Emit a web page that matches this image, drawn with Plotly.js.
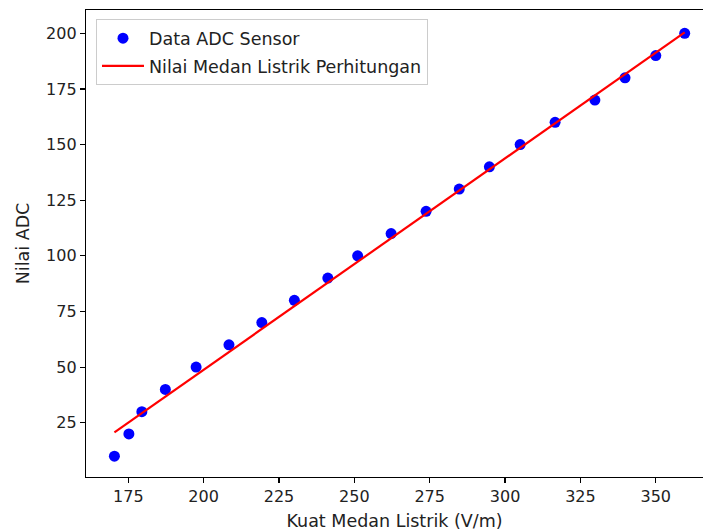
<!DOCTYPE html>
<html>
<head>
<meta charset="utf-8">
<script src="https://cdn.plot.ly/plotly-3.0.1.min.js"></script>
<style>
html,body{margin:0;padding:0;background:#fff;}
#chart{width:703px;height:532px;}
</style>
</head>
<body>
<div id="chart"></div>
<script>
// Data
const medanListrik = [170.4, 175.2, 179.5, 187.3, 197.5, 208.4, 219.3, 230.1, 241.2, 251.1, 262.2, 273.8, 284.8, 294.8, 305.0, 316.6, 329.8, 339.8, 350.0, 359.6];
const nilaiADC = [10, 20, 30, 40, 50, 60, 70, 80, 90, 100, 110, 120, 130, 140, 150, 160, 170, 180, 190, 200];
const garisX = [170.4, 359.6];
const garisY = [20.7, 200.4];
const seriesNames = ["Data ADC Sensor", "Nilai Medan Listrik Perhitungan"];
const xTitle = "Kuat Medan Listrik (V/m)";
const yTitle = "Nilai ADC";

const FONT = "DejaVu Sans, sans-serif";
const TXT = "#222";

const traces = [
  {
    x: medanListrik, y: nilaiADC, type: "scatter", mode: "markers",
    name: seriesNames[0], legendgroup: "a",
    marker: {color: "#0000ff", size: 11}
  },
  {
    x: garisX, y: garisY, type: "scatter", mode: "lines",
    name: seriesNames[1], legendgroup: "b",
    line: {color: "#ff0000", width: 2.2}
  }
];

const layout = {
  width: 703, height: 532,
  margin: {l: 86, r: 0, t: 10, b: 55, pad: 0},
  paper_bgcolor: "#fff", plot_bgcolor: "#fff",
  font: {family: FONT, size: 16, color: TXT},
  showlegend: true,
  legend: {
    x: 0.0162, y: 0.98, xanchor: "left", yanchor: "top",
    bgcolor: "rgba(255,255,255,0.8)", bordercolor: "#cccccc", borderwidth: 1,
    font: {family: FONT, size: 17.5, color: TXT},
    traceorder: "grouped", tracegroupgap: 2, itemwidth: 42
  },
  xaxis: {
    range: [160.97, 365.67], tick0: 0, dtick: 25,
    showgrid: false, zeroline: false,
    showline: true, linecolor: "#000", linewidth: 1.2, mirror: true,
    ticks: "outside", ticklen: 5, tickwidth: 1.2, tickcolor: "#000",
    tickfont: {family: FONT, size: 16, color: TXT},
    title: {text: xTitle, font: {family: FONT, size: 17.5, color: TXT}, standoff: 9}
  },
  yaxis: {
    range: [0.63, 210.46], tick0: 0, dtick: 25,
    showgrid: false, zeroline: false,
    showline: true, linecolor: "#000", linewidth: 1.2, mirror: false,
    ticks: "outside", ticklen: 5, tickwidth: 1.2, tickcolor: "#000",
    tickfont: {family: FONT, size: 16, color: TXT},
    title: {text: yTitle, font: {family: FONT, size: 17.5, color: TXT}, standoff: 12}
  }
};

Plotly.newPlot("chart", traces, layout, {displayModeBar: false, staticPlot: true});
</script>
</body>
</html>
